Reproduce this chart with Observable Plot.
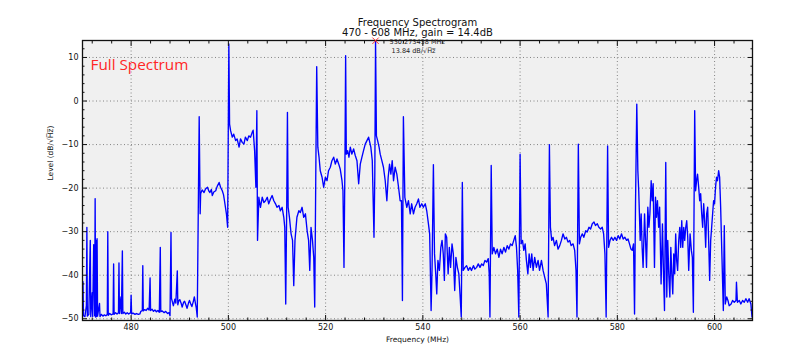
<!DOCTYPE html>
<html>
<head>
<meta charset="utf-8">
<script src="https://cdn.jsdelivr.net/npm/d3@7"></script>
<script src="https://cdn.jsdelivr.net/npm/@observablehq/plot@0.6"></script>
<style>
  body { margin: 0; background: #ffffff; }
  #chart svg { display: block; }
</style>
</head>
<body>
<div id="chart"></div>
<script>
// ---- chart values ----
const titleText = "Frequency Spectrogram";
const subtitleText = "470 - 608 MHz, gain = 14.4dB";
const xLabel = "Frequency (MHz)";
const yLabel = "Level (dB/\u221AH\u0305z\u0305)";
const insetLabel = "Full Spectrum";

const xTicks = [480, 500, 520, 540, 560, 580, 600];
const yTicks = [10, 0, -10, -20, -30, -40, -50];
const xMinorTicks = [472, 476, 484, 488, 492, 496, 504, 508, 512, 516, 524, 528, 532, 536, 544, 548, 552, 556, 564, 568, 572, 576, 584, 588, 592, 596, 604];
const yMinorTicks = [12, 8, 6, 4, 2, -2, -4, -6, -8, -12, -14, -16, -18, -22, -24, -26, -28, -32, -34, -36, -38, -42, -44, -46, -48];

const peakFreq = [530.273438];
const peakLevel = [13.84];

// spectrum: [frequency MHz, level dB/sqrt(Hz)]
const spectrum = [
  [470.0, -49.0], [470.1, -41.5], [470.2, -49.3], [470.5, -49.5], [470.8, -47.0], [470.9, -29.0], [471.0, -49.4],
  [471.3, -49.0], [471.6, -32.0], [471.7, -49.5], [472.0, -44.0], [472.1, -49.5], [472.3, -33.0], [472.4, -40.0],
  [472.5, -49.3], [472.6, -22.4], [472.7, -49.6], [472.8, -32.0], [472.9, -49.5], [473.0, -31.6], [473.1, -49.4],
  [473.5, -46.5], [473.6, -49.5], [473.9, -49.0], [474.2, -49.4], [474.5, -49.1], [474.8, -49.3], [475.1, -49.0],
  [475.2, -30.0], [475.3, -49.2], [475.6, -48.8], [475.9, -49.1], [476.3, -48.9], [476.4, -37.4], [476.5, -49.0],
  [476.8, -48.6], [477.1, -48.9], [477.4, -48.6], [477.5, -37.2], [477.6, -48.8], [477.9, -45.0], [478.0, -48.8],
  [478.2, -34.4], [478.3, -48.8], [478.6, -48.5], [478.9, -48.9], [479.2, -48.6], [479.5, -48.9], [479.9, -48.6],
  [480.0, -44.6], [480.1, -48.9], [480.4, -48.7], [480.8, -49.0], [481.1, -48.8], [481.5, -49.0], [481.8, -48.9],
  [482.0, -48.3], [482.3, -48.1], [482.4, -37.8], [482.5, -48.2], [482.8, -47.9], [483.1, -48.1], [483.4, -47.6],
  [483.7, -48.0], [483.9, -40.6], [484.0, -48.1], [484.3, -47.8], [484.6, -48.3], [484.9, -48.0], [485.2, -48.4],
  [485.5, -48.1], [485.8, -48.5], [486.0, -33.6], [486.1, -48.4], [486.4, -48.2], [486.8, -48.6], [487.1, -48.3],
  [487.5, -48.8], [487.8, -48.6], [488.0, -49.3], [488.2, -30.2], [488.3, -45.3], [488.5, -46.2], [488.7, -47.0],
  [489.0, -45.5], [489.2, -46.4], [489.5, -39.0], [489.6, -46.8], [489.8, -45.9], [490.0, -45.6], [490.3, -46.5],
  [490.5, -47.3], [490.8, -46.2], [491.0, -46.0], [491.3, -46.9], [491.5, -47.6], [491.8, -46.4], [492.0, -45.8],
  [492.3, -46.7], [492.5, -47.2], [492.8, -46.0], [493.0, -45.0], [493.2, -46.3], [493.4, -47.5], [493.6, -49.6],
  [494.0, -3.6], [494.2, -25.9], [494.3, -21.3], [494.6, -20.4], [495.0, -21.0], [495.3, -20.2], [495.7, -19.8],
  [496.0, -20.7], [496.2, -21.0], [496.5, -20.3], [496.7, -21.7], [497.0, -20.9], [497.4, -20.6], [497.7, -19.6],
  [498.1, -18.7], [498.4, -19.8], [498.75, -20.6], [499.0, -21.5], [499.2, -22.9], [499.6, -25.9], [499.85, -29.0],
  [500.1, 13.1], [500.25, -5.3], [500.46, -6.8], [500.8, -8.3], [501.1, -7.6], [501.5, -9.1], [501.8, -8.7],
  [502.2, -10.6], [502.5, -8.7], [502.85, -9.5], [503.2, -9.9], [503.5, -8.3], [503.9, -9.1], [504.2, -8.0],
  [504.56, -8.3], [504.9, -7.2], [505.1, -6.7], [505.4, -11.4], [505.66, -19.8], [505.86, -2.2], [506.0, -32.0],
  [506.27, -22.1], [506.6, -24.4], [506.96, -22.1], [507.3, -23.3], [507.64, -22.9], [508.0, -22.1], [508.3, -23.6],
  [508.67, -22.5], [509.0, -21.7], [509.35, -22.9], [509.7, -23.6], [510.0, -24.4], [510.4, -24.0], [510.7, -25.2],
  [511.06, -24.4], [511.4, -26.7], [511.6, -29.0], [511.8, -46.6], [512.0, -24.4], [512.15, -2.6], [512.3, -24.4],
  [512.56, -26.7], [512.9, -30.5], [513.2, -32.0], [513.45, -42.4], [513.7, -32.0], [514.1, -26.7], [514.5, -25.2],
  [514.8, -25.6], [515.16, -24.4], [515.5, -26.7], [515.85, -25.9], [516.2, -29.8], [516.5, -32.0], [516.74, -38.9],
  [517.0, -29.0], [517.3, -32.0], [517.56, -35.9], [517.76, -47.3], [517.97, -18.3], [518.17, 7.9], [518.4, -10.6],
  [518.65, -12.9], [518.9, -16.0], [519.27, -17.5], [519.6, -19.8], [519.95, -17.5], [520.3, -18.3], [520.6, -16.0],
  [520.97, -15.2], [521.3, -13.7], [521.66, -12.9], [522.0, -14.5], [522.34, -13.3], [522.7, -14.5], [523.0, -15.6],
  [523.37, -18.3], [523.57, -20.6], [523.78, -38.2], [523.98, -13.7], [524.12, 10.4], [524.26, -12.2], [524.53, -11.4],
  [524.8, -12.9], [525.08, -10.6], [525.4, -12.2], [525.76, -11.0], [526.1, -12.5], [526.45, -13.7], [526.8, -19.0],
  [527.13, -14.5], [527.47, -12.9], [527.8, -11.4], [528.15, -9.9], [528.5, -9.1], [528.84, -8.3], [529.0, -9.1],
  [529.3, -10.6], [529.6, -13.7], [529.95, -31.3], [530.12, -16.8], [530.273438, 13.84], [530.45, -8.0], [530.7, -9.1],
  [531.0, -10.6], [531.23, -12.2], [531.57, -13.7], [531.9, -15.2], [532.26, -18.3], [532.6, -22.9], [532.87, -17.5],
  [533.15, -14.5], [533.42, -16.8], [533.7, -13.7], [533.97, -18.3], [534.3, -15.2], [534.65, -16.8], [535.0, -19.8],
  [535.33, -22.9], [535.6, -22.9], [535.8, -45.8], [536.0, -3.6], [536.3, -22.1], [536.7, -24.4], [537.04, -22.9],
  [537.4, -25.9], [537.7, -23.6], [538.07, -25.9], [538.4, -24.4], [538.75, -23.6], [539.1, -22.5], [539.4, -24.4],
  [539.78, -23.6], [540.1, -24.4], [540.5, -23.6], [540.8, -25.2], [541.15, -28.2], [541.4, -30.5], [541.7, -48.1],
  [541.9, -38.2], [542.17, -14.6], [542.4, -35.1], [542.65, -39.7], [542.86, -44.3], [543.1, -36.6], [543.4, -38.9],
  [543.7, -33.6], [543.95, -32.0], [544.2, -35.1], [544.43, -41.2], [544.63, -30.5], [544.9, -31.3], [545.2, -39.7],
  [545.45, -33.6], [545.7, -38.2], [546.0, -32.8], [546.27, -35.1], [546.55, -43.5], [546.8, -35.9], [547.1, -38.2],
  [547.4, -39.7], [547.64, -44.3], [547.9, -49.6], [548.12, -18.7], [548.3, -38.9], [548.67, -38.2], [549.0, -37.8],
  [549.35, -38.9], [549.7, -38.2], [550.0, -38.9], [550.4, -37.8], [550.7, -38.6], [551.06, -38.2], [551.4, -37.4],
  [551.75, -38.2], [552.1, -37.4], [552.43, -37.8], [552.77, -36.6], [553.1, -37.0], [553.45, -36.2], [553.65, -39.7],
  [553.8, -49.6], [554.06, -14.8], [554.27, -35.1], [554.6, -33.6], [554.95, -35.1], [555.3, -34.0], [555.64, -35.9],
  [555.98, -34.0], [556.3, -35.1], [556.66, -33.6], [557.0, -34.7], [557.35, -33.2], [557.7, -34.0], [558.03, -32.8],
  [558.37, -33.2], [558.7, -32.0], [559.0, -30.9], [559.26, -33.6], [559.5, -38.9], [559.74, -49.6], [560.0, -12.2],
  [560.22, -32.8], [560.5, -32.0], [560.76, -34.3], [561.04, -32.8], [561.3, -36.6], [561.6, -39.7], [561.86, -35.1],
  [562.13, -38.2], [562.4, -35.1], [562.68, -38.9], [563.0, -35.9], [563.36, -38.2], [563.7, -36.6], [564.0, -38.9],
  [564.39, -36.6], [564.73, -38.9], [565.07, -40.5], [565.4, -42.0], [565.76, -49.6], [566.03, -10.0], [566.24, -29.0],
  [566.5, -32.0], [566.78, -31.3], [567.1, -33.2], [567.47, -32.0], [567.8, -34.0], [568.15, -33.2], [568.5, -32.0],
  [568.83, -30.5], [569.2, -31.7], [569.52, -31.3], [569.86, -32.4], [570.2, -32.0], [570.5, -33.2], [570.9, -32.8],
  [571.23, -34.3], [571.5, -38.9], [571.7, -49.6], [571.98, -9.9], [572.2, -32.8], [572.46, -31.3], [572.8, -30.5],
  [573.1, -31.3], [573.5, -29.8], [573.8, -30.1], [574.17, -29.0], [574.5, -29.4], [574.85, -28.2], [575.2, -27.8],
  [575.5, -28.6], [575.88, -28.2], [576.2, -29.0], [576.56, -29.4], [576.9, -29.0], [577.18, -30.5], [577.45, -35.1],
  [577.7, -49.6], [578.0, -10.3], [578.2, -33.6], [578.5, -32.0], [578.8, -31.3], [579.16, -32.0], [579.5, -31.3],
  [579.84, -32.0], [580.18, -30.9], [580.5, -31.7], [580.87, -30.5], [581.2, -31.7], [581.55, -31.3], [581.9, -32.0],
  [582.2, -31.7], [582.5, -32.8], [582.8, -34.0], [583.06, -34.3], [583.33, -32.8], [583.54, -48.9], [583.74, -23.6],
  [584.0, -0.7], [584.22, -16.0], [584.4, -20.6], [584.7, -32.0], [584.9, -25.9], [585.1, -33.6], [585.3, -38.2],
  [585.6, -25.9], [585.8, -32.0], [586.0, -38.2], [586.27, -24.4], [586.5, -29.0], [586.7, -25.9], [586.96, -18.3],
  [587.16, -22.9], [587.37, -19.0], [587.64, -38.2], [587.85, -22.1], [588.05, -26.7], [588.25, -22.9], [588.5, -29.0],
  [588.7, -24.4], [589.0, -42.0], [589.28, -28.2], [589.5, -39.7], [589.7, -48.1], [589.96, -14.1], [590.17, -45.0],
  [590.37, -32.0], [590.58, -39.7], [590.8, -45.0], [591.0, -33.6], [591.2, -39.7], [591.4, -44.3], [591.6, -35.1],
  [591.8, -39.7], [592.0, -30.5], [592.2, -36.6], [592.4, -38.9], [592.63, -32.0], [592.84, -29.0], [593.04, -33.6],
  [593.25, -27.5], [593.45, -33.6], [593.66, -29.0], [593.86, -32.0], [594.07, -29.0], [594.27, -27.5], [594.48, -31.3],
  [594.68, -38.9], [594.96, -30.5], [595.23, -34.3], [595.43, -35.9], [595.64, -48.5], [595.91, -2.2], [596.1, -20.6],
  [596.3, -18.3], [596.5, -16.8], [596.73, -19.8], [596.94, -22.9], [597.14, -21.3], [597.35, -25.9], [597.55, -29.0],
  [597.76, -23.6], [597.96, -27.5], [598.17, -33.6], [598.37, -25.9], [598.58, -24.4], [598.78, -32.0], [598.99, -41.2],
  [599.2, -32.0], [599.4, -29.0], [599.6, -25.9], [599.8, -22.9], [600.0, -23.6], [600.2, -19.8], [600.4, -17.5],
  [600.6, -18.3], [600.84, -16.0], [601.04, -17.5], [601.25, -24.4], [601.5, -35.1], [601.8, -48.1], [602.0, -28.6],
  [602.2, -46.6], [602.5, -45.0], [602.75, -45.8], [603.0, -47.0], [603.4, -46.6], [603.7, -45.8], [604.05, -46.2],
  [604.4, -45.8], [604.5, -41.6], [604.7, -46.2], [605.08, -45.8], [605.4, -46.6], [605.76, -45.8], [606.1, -46.2],
  [606.44, -45.4], [606.8, -46.2], [607.1, -45.4], [607.47, -46.6], [607.7, -49.6]
];

// ---- drawing ----
const peak = peakFreq.map((f, i) => ({f, v: peakLevel[i]}));
const blank = () => "";

const chart = Plot.plot({
  width: 800,
  height: 359,
  marginTop: 40,
  marginBottom: 39,
  marginLeft: 82,
  marginRight: 48,
  x: {domain: [470, 607.8], label: null},
  y: {domain: [-50.4, 13.9], label: null},
  style: {fontFamily: "DejaVu Sans, sans-serif", fontSize: "8px", color: "#111", background: "#ffffff"},
  marks: [
    Plot.frame({fill: "#f0f0f0", stroke: null}),
    Plot.gridX(xTicks, {stroke: "#777", strokeOpacity: 1, strokeWidth: 0.9, strokeDasharray: "1,2.5"}),
    Plot.gridY(yTicks, {stroke: "#777", strokeOpacity: 1, strokeWidth: 0.9, strokeDasharray: "1,2.5"}),
    Plot.line(spectrum, {x: d => d[0], y: d => d[1], stroke: "#0000ff", strokeWidth: 1.35, strokeLinejoin: "round", clip: true}),
    Plot.frame({stroke: "#111", strokeWidth: 1.3}),
    // major ticks (inward) with labels
    Plot.axisX(xTicks, {anchor: "bottom", tickSize: -5, tickPadding: 9, fontSize: 8, label: null}),
    Plot.axisX(xTicks, {anchor: "top", tickSize: -5, tickFormat: blank, label: null}),
    Plot.axisY(yTicks, {anchor: "left", tickSize: -5, tickPadding: 9, fontSize: 8, label: null}),
    Plot.axisY(yTicks, {anchor: "right", tickSize: -5, tickFormat: blank, label: null}),
    // minor ticks
    Plot.axisX(xMinorTicks, {anchor: "bottom", tickSize: -2.5, tickFormat: blank, label: null}),
    Plot.axisX(xMinorTicks, {anchor: "top", tickSize: -2.5, tickFormat: blank, label: null}),
    Plot.axisY(yMinorTicks, {anchor: "left", tickSize: -2.5, tickFormat: blank, label: null}),
    Plot.axisY(yMinorTicks, {anchor: "right", tickSize: -2.5, tickFormat: blank, label: null}),
    // titles and axis labels
    Plot.text([titleText], {frameAnchor: "top", text: d => d, dy: -18, lineAnchor: "middle", fontSize: 10, fill: "#111"}),
    Plot.text([subtitleText], {frameAnchor: "top", text: d => d, dy: -7.5, lineAnchor: "middle", fontSize: 10, fill: "#111"}),
    Plot.text([xLabel], {frameAnchor: "bottom", text: d => d, dy: 19, lineAnchor: "middle", fontSize: 7.5, fill: "#111"}),
    Plot.text([yLabel], {frameAnchor: "left", text: d => d, dx: -32, rotate: -90, lineAnchor: "middle", fontSize: 7.5, fill: "#111"}),
    Plot.text([insetLabel], {frameAnchor: "top-left", text: d => d, dx: 8, dy: 29, textAnchor: "start", lineAnchor: "bottom", fontSize: 15.3, fontFamily: "Open Sans", fill: "#ff2626"}),
    // peak annotation
    Plot.dot(peak, {x: "f", y: "v", symbol: "times", r: 3, stroke: "#ff3030", strokeWidth: 1}),
    Plot.text(peak, {x: "f", y: "v", text: d => `${d.f.toFixed(6)} MHz`, textAnchor: "start", dx: 14, dy: 1, lineAnchor: "middle", fontSize: 6.5, fill: "#222"}),
    Plot.text(peak, {x: "f", y: "v", text: d => `${d.v.toFixed(2)} dB/\u221AH\u0305z\u0305`, textAnchor: "start", dx: 16, dy: 10.5, lineAnchor: "middle", fontSize: 6.5, fill: "#222"})
  ]
});

document.getElementById("chart").appendChild(chart);
</script>
</body>
</html>
